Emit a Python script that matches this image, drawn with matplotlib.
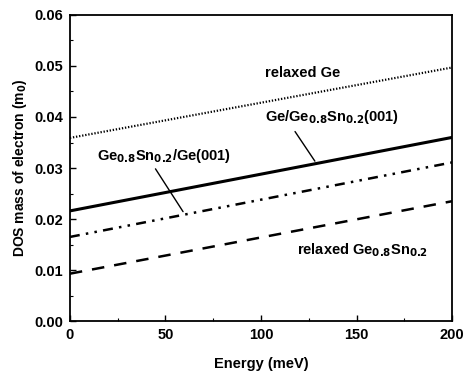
import matplotlib
matplotlib.use("Agg")
import matplotlib.pyplot as plt
from matplotlib.ticker import MultipleLocator

plt.rcParams['font.family'] = ['Liberation Sans', 'DejaVu Sans']
plt.rcParams['font.weight'] = 'bold'
plt.rcParams['mathtext.default'] = 'bf'

energy = [0, 200]
relaxed_ge = [0.0359, 0.0497]
ge_on_gesn = [0.0216, 0.0360]
gesn_on_ge = [0.0165, 0.0311]
relaxed_gesn = [0.0093, 0.0235]

fig = plt.figure(figsize=(4.69, 3.73), dpi=100)
ax = fig.add_axes([0.149, 0.139, 0.815, 0.821])

ax.plot(energy, relaxed_ge, color='black', lw=1.6, linestyle=(0, (0.6, 0.8)))
ax.plot(energy, ge_on_gesn, color='black', lw=2.2, linestyle='-')
ax.plot(energy, gesn_on_ge, color='black', lw=1.8, linestyle=(0, (4, 2.5, 1, 2.5, 1, 2.5)))
ax.plot(energy, relaxed_gesn, color='black', lw=1.8, linestyle=(0, (5, 4)))

ax.set_xlim(0, 200)
ax.set_ylim(0, 0.06)
ax.xaxis.set_major_locator(MultipleLocator(50))
ax.xaxis.set_minor_locator(MultipleLocator(25))
ax.yaxis.set_major_locator(MultipleLocator(0.01))
ax.yaxis.set_minor_locator(MultipleLocator(0.005))
ax.yaxis.set_major_formatter(matplotlib.ticker.FormatStrFormatter('%.2f'))
ax.tick_params(which='both', direction='in', top=False, right=False, labelsize=10.5)
ax.tick_params(which='major', length=4, width=1, pad=5)
ax.tick_params(which='minor', length=2.5, width=0.8)
for sp in ax.spines.values():
    sp.set_linewidth(1.3)
for lab in ax.get_xticklabels() + ax.get_yticklabels():
    lab.set_fontweight('bold')

ax.set_xlabel('Energy (meV)', fontsize=10.5, fontweight='bold', labelpad=11)
ax.set_ylabel('DOS mass of electron (m$_{0}$)', fontsize=10, fontweight='bold', labelpad=4)

fs = 10.5
ax.text(102, 0.0487, 'relaxed Ge', fontsize=fs, fontweight='bold', va='center', ha='left')
ax.text(102, 0.0400, 'Ge/Ge$_{0.8}$Sn$_{0.2}$(001)', fontsize=fs, fontweight='bold', va='center', ha='left')
ax.annotate('', xy=(129, 0.0309), xytext=(117, 0.0376),
            arrowprops=dict(arrowstyle='-', color='black', lw=1))
ax.text(14, 0.0324, 'Ge$_{0.8}$Sn$_{0.2}$/Ge(001)', fontsize=fs, fontweight='bold', va='center', ha='left')
ax.annotate('', xy=(60, 0.0210), xytext=(44, 0.0303),
            arrowprops=dict(arrowstyle='-', color='black', lw=1))
ax.text(119, 0.0140, 'relaxed Ge$_{0.8}$Sn$_{0.2}$', fontsize=fs, fontweight='bold', va='center', ha='left')

fig.savefig('out.png', dpi=100)
